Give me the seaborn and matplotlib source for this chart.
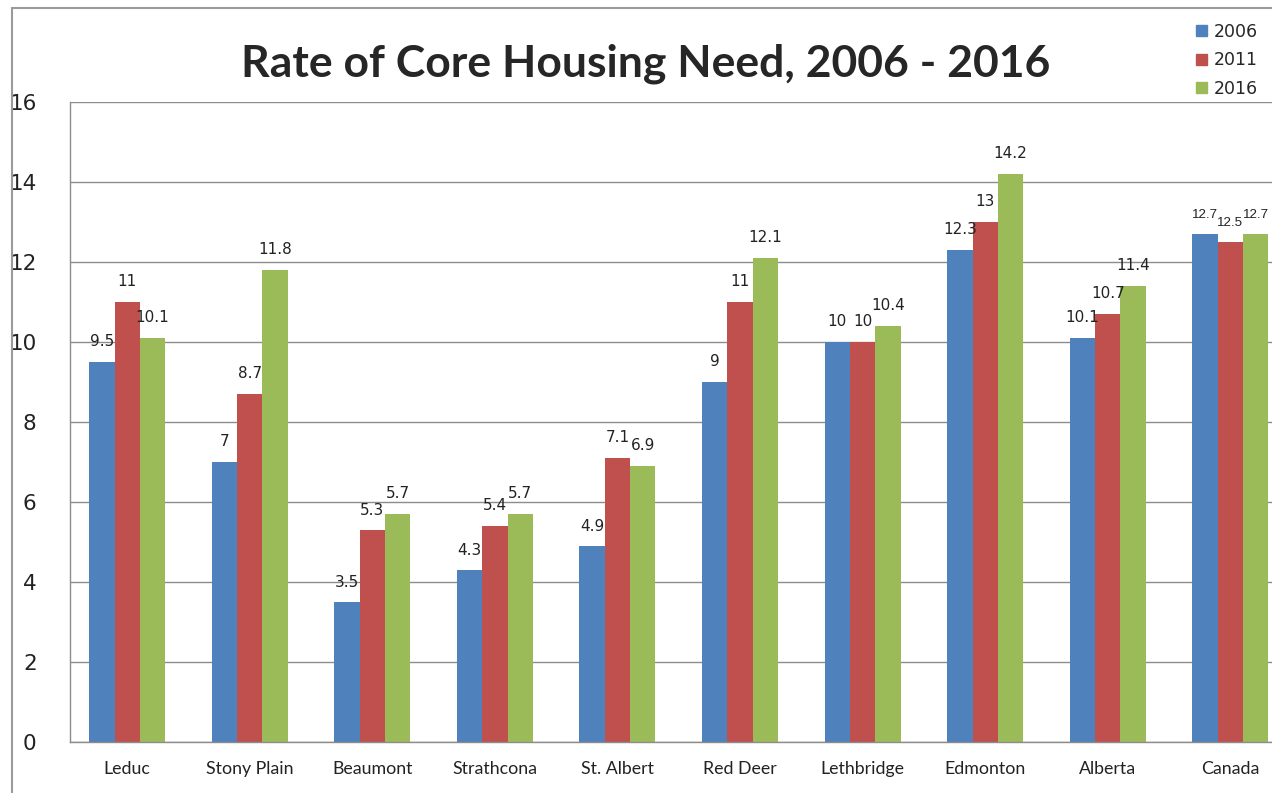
import pandas as pd
import matplotlib
matplotlib.use("Agg")
import matplotlib.pyplot as plt
import seaborn as sns
from matplotlib.lines import Line2D

# data
places = ["Leduc", "Stony Plain", "Beaumont", "Strathcona", "St. Albert",
          "Red Deer", "Lethbridge", "Edmonton", "Alberta", "Canada"]
rate_2006 = [9.5, 7, 3.5, 4.3, 4.9, 9, 10, 12.3, 10.1, 12.7]
rate_2011 = [11, 8.7, 5.3, 5.4, 7.1, 11, 10, 13, 10.7, 12.5]
rate_2016 = [10.1, 11.8, 5.7, 5.7, 6.9, 12.1, 10.4, 14.2, 11.4, 12.7]
years = ["2006", "2011", "2016"]
colors = ["#4F81BD", "#C0504D", "#9BBB59"]

df = pd.DataFrame({"Place": places * 3,
                   "Year": [y for y in years for _ in places],
                   "Rate": rate_2006 + rate_2011 + rate_2016})

sns.set_style("white")
plt.rcParams["font.family"] = ["DejaVu Sans"]

fig = plt.figure(figsize=(12.72, 7.93), dpi=100)
ax = fig.add_axes([0.055, 0.0643, 0.945, 0.8071])

sns.barplot(data=df, x="Place", y="Rate", hue="Year", palette=colors,
            width=0.62, gap=0, saturation=1, linewidth=0, ax=ax, legend=False)

for cont in ax.containers:
    labels = ["%g" % v for v in cont.datavalues]
    texts = ax.bar_label(cont, labels=labels, padding=9, fontsize=11, color="#222222")
    # Canada's three labels sit side by side, use a narrower face there
    texts[places.index("Canada")].set_fontfamily("Liberation Sans")
    texts[places.index("Canada")].set_fontsize(9.6)

ax.set_ylim(0, 16)
ax.set_yticks(range(0, 17, 2))
ax.set_xlim(-0.467, 9.34)
ax.yaxis.grid(True, color="#8c8c8c", linewidth=1)
ax.set_axisbelow(True)
ax.set_xlabel("")
ax.set_ylabel("")
ax.tick_params(axis="y", labelsize=15.5, pad=24, colors="#222222", length=0)
ax.tick_params(axis="x", length=0, pad=14)
for lab in ax.get_xticklabels():
    lab.set_fontfamily("Lato")
    lab.set_fontsize(12.8)
    lab.set_color("#222222")

for side in ["top", "right"]:
    ax.spines[side].set_visible(False)
for side in ["left", "bottom"]:
    ax.spines[side].set_color("#8c8c8c")
    ax.spines[side].set_linewidth(1)

fig.text(0.508, 0.92, "Rate of Core Housing Need, 2006 - 2016", ha="center",
         va="center", fontsize=32, fontweight="bold", family="Lato")

handles = [plt.Rectangle((0, 0), 1, 1, color=c) for c in colors]
leg = fig.legend(handles, years, loc="upper left", bbox_to_anchor=(0.935, 0.98),
                 frameon=False, fontsize=12.5, handlelength=0.6, handleheight=0.6,
                 handletextpad=0.4, labelspacing=0.6, borderaxespad=0)

# outer frame of the embedded chart
fig.add_artist(Line2D([0.0095, 1], [0.99, 0.99], color="#9a9a9a", lw=1.5,
                      transform=fig.transFigure))
fig.add_artist(Line2D([0.0095, 0.0095], [0, 0.99], color="#9a9a9a", lw=1.5,
                      transform=fig.transFigure))

fig.savefig("out.png", dpi=100)
